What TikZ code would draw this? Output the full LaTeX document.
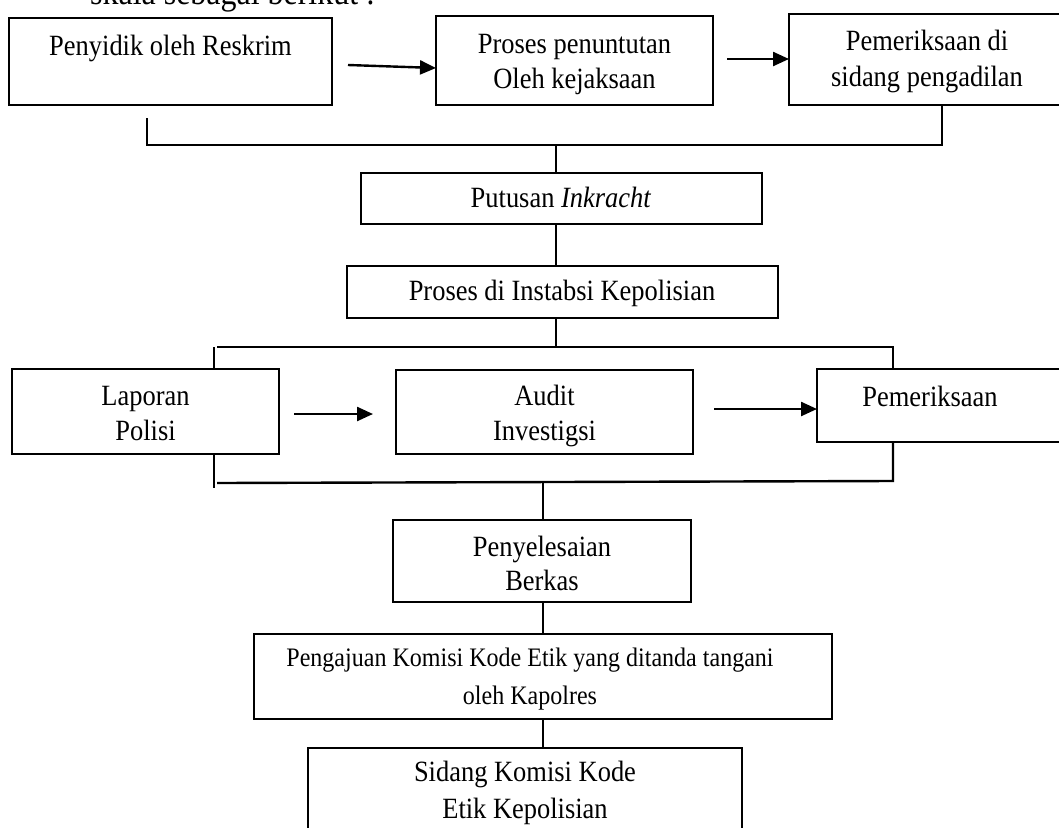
\documentclass[tikz,border=0pt]{standalone}
\usepackage{fontspec}
\setmainfont{Liberation Serif}[FakeStretch=0.9]
\usetikzlibrary{arrows.meta,fit}
\begin{document}
\begin{tikzpicture}[x=1pt,y=-1pt,
  box/.style={draw, line width=1.8pt, inner sep=0pt, outer sep=0pt},
  txt/.style={anchor=base, inner sep=0pt, font=\fontsize{29.4}{34}\selectfont},
  stxt/.style={anchor=base, inner sep=0pt, font=\fontsize{26.7}{31}\selectfont},
  conn/.style={line width=2.4pt},
  arr/.style={line width=2.4pt, -{Triangle[length=16pt,width=14pt]}}]
\useasboundingbox (0,0) rectangle (1059,827);

% cut-off line of running text at the top
\node[anchor=base west, inner sep=0pt, font=\fontsize{35.5}{40}\selectfont] (intro) at (90,5) {skala sebagai berikut :};

% ---- boxes ----
\node[box, fit={(9,18) (332,105)}] (b1) {};
\node[box, fit={(436,16) (713,105)}] (b2) {};
\node[box, fit={(789,14) (1068,105)}] (b3) {};
\node[box, fit={(361,173) (762,224)}] (b4) {};
\node[box, fit={(347,266) (778,318)}] (b5) {};
\node[box, fit={(12,369) (279,454)}] (b6) {};
\node[box, fit={(396,370) (693,454)}] (b7) {};
\node[box, fit={(817,369) (1068,442)}] (b8) {};
\node[box, fit={(393,520) (691,602)}] (b9) {};
\node[box, fit={(254,634) (832,719)}] (b10) {};
\node[box, fit={(308,748) (742,845)}] (b11) {};

% ---- texts ----
\node[txt] (t1) at (170.5,55) {Penyidik oleh Reskrim};
\node[txt] (t2a) at (574.5,53) {Proses penuntutan};
\node[txt] (t2b) at (574.5,88) {Oleh kejaksaan};
\node[txt] (t3a) at (927,50) {Pemeriksaan di};
\node[txt] (t3b) at (927,86) {sidang pengadilan};
\node[txt] (t4) at (561,207) {Putusan \textit{Inkracht}};
\node[txt] (t5) at (562,300) {Proses di Instabsi Kepolisian};
\node[txt] (t6a) at (145.5,405) {Laporan};
\node[txt] (t6b) at (145.5,440) {Polisi};
\node[txt] (t7a) at (544.5,405) {Audit};
\node[txt] (t7b) at (544.5,440) {Investigsi};
\node[txt] (t8) at (930,406) {Pemeriksaan};
\node[txt] (t9a) at (542,556) {Penyelesaian};
\node[txt] (t9b) at (542,590) {Berkas};
\node[stxt] (t10a) at (530,666) {Pengajuan Komisi Kode Etik yang ditanda tangani};
\node[stxt] (t10b) at (530,704) {oleh Kapolres};
\node[txt] (t11a) at (525,781) {Sidang Komisi Kode};
\node[txt] (t11b) at (525,818) {Etik Kepolisian};

% ---- arrows ----
\coordinate (a1s) at (348,65);
\coordinate (a2s) at (727,59);
\coordinate (a3s) at (294,414);
\coordinate (a3e) at (373,414);
\coordinate (a4s) at (714,409);
\draw[arr] (a1s) -- (b2.west |- 0,68);
\draw[arr] (a2s) -- (b3.west |- a2s);
\draw[arr] (a3s) -- (a3e);
\draw[arr] (a4s) -- (b8.west |- a4s);

% ---- bracket lines ----
\coordinate (c1a) at (147,118);
\coordinate (c1b) at (147,145);
\coordinate (c1c) at (942,145);
\coordinate (c1m) at (556,145);
\draw[conn] (c1a) -- (c1b) -- (c1c) -- (c1c |- b3.south);
\draw[conn] (c1m) -- (c1m |- b4.north);
\draw[conn] (b4.south -| c1m) -- (b5.north -| c1m);

\coordinate (c2m) at (556,347);
\coordinate (c2l) at (217,347);
\coordinate (c2r) at (893,347);
\draw[conn] (b5.south -| c2m) -- (c2m);
\draw[conn] (c2l) -- (c2r) -- (c2r |- b8.north);
\draw[conn] (214,347) -- (b6.north -| 214,0);

\coordinate (c3l) at (217,483);
\coordinate (c3r) at (893,481);
\coordinate (c3m) at (543,482);
\draw[conn] (b6.south -| 214,0) -- (214,488);
\draw[conn] (c3l) -- (c3r) -- (c3r |- b8.south);
\draw[conn] (c3m) -- (c3m |- b9.north);
\draw[conn] (b9.south -| c3m) -- (b10.north -| c3m);
\draw[conn] (b10.south -| c3m) -- (b11.north -| c3m);
\end{tikzpicture}
\end{document}
